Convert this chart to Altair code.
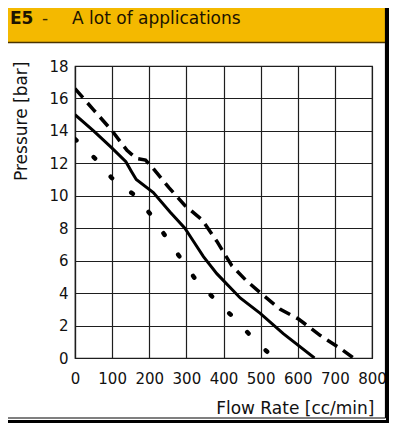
import altair as alt
import pandas as pd

# ---- data ----
x_ticks = [0, 100, 200, 300, 400, 500, 600, 700, 800]
y_ticks = [0, 2, 4, 6, 8, 10, 12, 14, 16, 18]

solid_x = [0, 50, 97, 137, 152, 165, 211, 256, 296, 319, 346, 382, 445, 499, 561, 645]
solid_y = [15.0, 14.0, 13.0, 12.1, 11.5, 11.0, 10.2, 9.0, 8.0, 7.2, 6.25, 5.2, 3.7, 2.75, 1.5, 0.0]

dashed_x = [0, 50, 100, 140, 165, 190, 210, 253, 296, 343, 382, 422, 460, 500, 553, 602, 660, 714, 750]
dashed_y = [16.6, 15.3, 14.0, 12.8, 12.3, 12.2, 11.7, 10.5, 9.4, 8.5, 7.2, 5.7, 4.8, 4.0, 3.0, 2.4, 1.4, 0.6, 0.0]

dotted_x = [0, 54, 99, 157, 202, 244, 283, 323, 373, 427, 476, 535]
dotted_y = [13.5, 12.3, 11.1, 10.1, 8.9, 7.5, 6.2, 4.9, 3.7, 2.5, 1.3, 0.0]

title_code = "E5"
title_dash = "-"
title_text = "A lot of applications"
x_title = "Flow Rate [cc/min]"
y_title = "Pressure [bar]"

W, H = 297, 292
FONT = "DejaVu Sans"
GRID = "#1e1e1e"

xs = alt.Scale(domain=[0, 800], nice=False, zero=False)
ys = alt.Scale(domain=[0, 18], nice=False, zero=False)

x_axis = alt.Axis(values=x_ticks, grid=True, gridColor=GRID, gridWidth=1.2,
                  domainColor=GRID, domainWidth=1.2, ticks=False, tickSize=0,
                  labelPadding=13, labelFont=FONT, labelFontSize=15, labelColor="#111",
                  labelOverlap=False, labelFlush=False,
                  title=x_title, titleFont=FONT, titleFontSize=17, titleFontWeight="normal",
                  titleColor="#111", titleAnchor="end", titleAlign="right",
                  titleX=W + 2, titleY=55, titleBaseline="alphabetic")
y_axis = alt.Axis(values=y_ticks, grid=True, gridColor=GRID, gridWidth=1.2,
                  domainColor=GRID, domainWidth=1.2, ticks=False, tickSize=0,
                  labelPadding=7, labelFont=FONT, labelFontSize=15, labelColor="#111",
                  labelOverlap=False, labelFlush=False,
                  title=y_title, titleFont=FONT, titleFontSize=17, titleFontWeight="normal",
                  titleColor="#111", titleAngle=270, titleAlign="right",
                  titleBaseline="alphabetic", titleX=-49, titleY=-5)

solid_df = pd.DataFrame({"x": solid_x, "y": solid_y})
dashed_df = pd.DataFrame({"x": dashed_x, "y": dashed_y})
dotted_df = pd.DataFrame({"x": dotted_x, "y": dotted_y})


def enc(ch):
    return ch.encode(
        x=alt.X("x:Q", scale=xs, axis=x_axis),
        y=alt.Y("y:Q", scale=ys, axis=y_axis),
    )


solid = enc(alt.Chart(solid_df).mark_line(color="black", strokeWidth=3, clip=True))
dashed = enc(alt.Chart(dashed_df).mark_line(color="black", strokeWidth=3.5,
                                            strokeDash=[12, 7], clip=True))
dotted = enc(alt.Chart(dotted_df).mark_line(color="black", strokeWidth=4.5, strokeDash=[2, 24],
                                            strokeCap="round", clip=True))

one = alt.Data(values=[{}])
band = alt.Chart(one).mark_rect(color="#F4B900").encode(
    x=alt.value(-80), x2=alt.value(310), y=alt.value(-70), y2=alt.value(-24))
band_line = alt.Chart(one).mark_rule(color="#4a3300", strokeWidth=1.5).encode(
    x=alt.value(-80), x2=alt.value(310), y=alt.value(-23.5))
frame_r_thin = alt.Chart(one).mark_rule(color="black", strokeWidth=1.2).encode(
    x=alt.value(310.5), y=alt.value(-70), y2=alt.value(352))
frame_b_thin = alt.Chart(one).mark_rule(color="black", strokeWidth=1.2).encode(
    x=alt.value(-80), x2=alt.value(310.5), y=alt.value(352))
frame_r_thick = alt.Chart(one).mark_rule(color="black", strokeWidth=3).encode(
    x=alt.value(312.5), y=alt.value(-70), y2=alt.value(360))
frame_b_thick = alt.Chart(one).mark_rule(color="black", strokeWidth=3).encode(
    x=alt.value(-80), x2=alt.value(320), y=alt.value(355.5))

t1 = alt.Chart(one).mark_text(font="DejaVu Sans", fontSize=17, fontWeight="bold", color="#1c1400",
                              align="left", baseline="alphabetic").encode(
    x=alt.value(-65), y=alt.value(-42), text=alt.value(title_code))
t2 = alt.Chart(one).mark_text(font="DejaVu Sans", fontSize=17, color="#3a2a00",
                              align="left", baseline="alphabetic").encode(
    x=alt.value(-33), y=alt.value(-42), text=alt.value(title_dash))
t3 = alt.Chart(one).mark_text(font="DejaVu Sans", fontSize=17, color="#1c1400",
                              align="left", baseline="alphabetic").encode(
    x=alt.value(-3), y=alt.value(-42), text=alt.value(title_text))

chart = alt.layer(
    solid, dashed, dotted, band, band_line,
    frame_r_thin, frame_b_thin, frame_r_thick, frame_b_thick, t1, t2, t3
).properties(
    width=W, height=H,
    padding={"left": 67, "top": 58, "right": 17, "bottom": 65},
    autosize="none",
    background="white",
).configure_view(stroke=GRID, strokeWidth=1.2)

chart.save("out.html", embed_options={"renderer": "svg", "actions": False})
